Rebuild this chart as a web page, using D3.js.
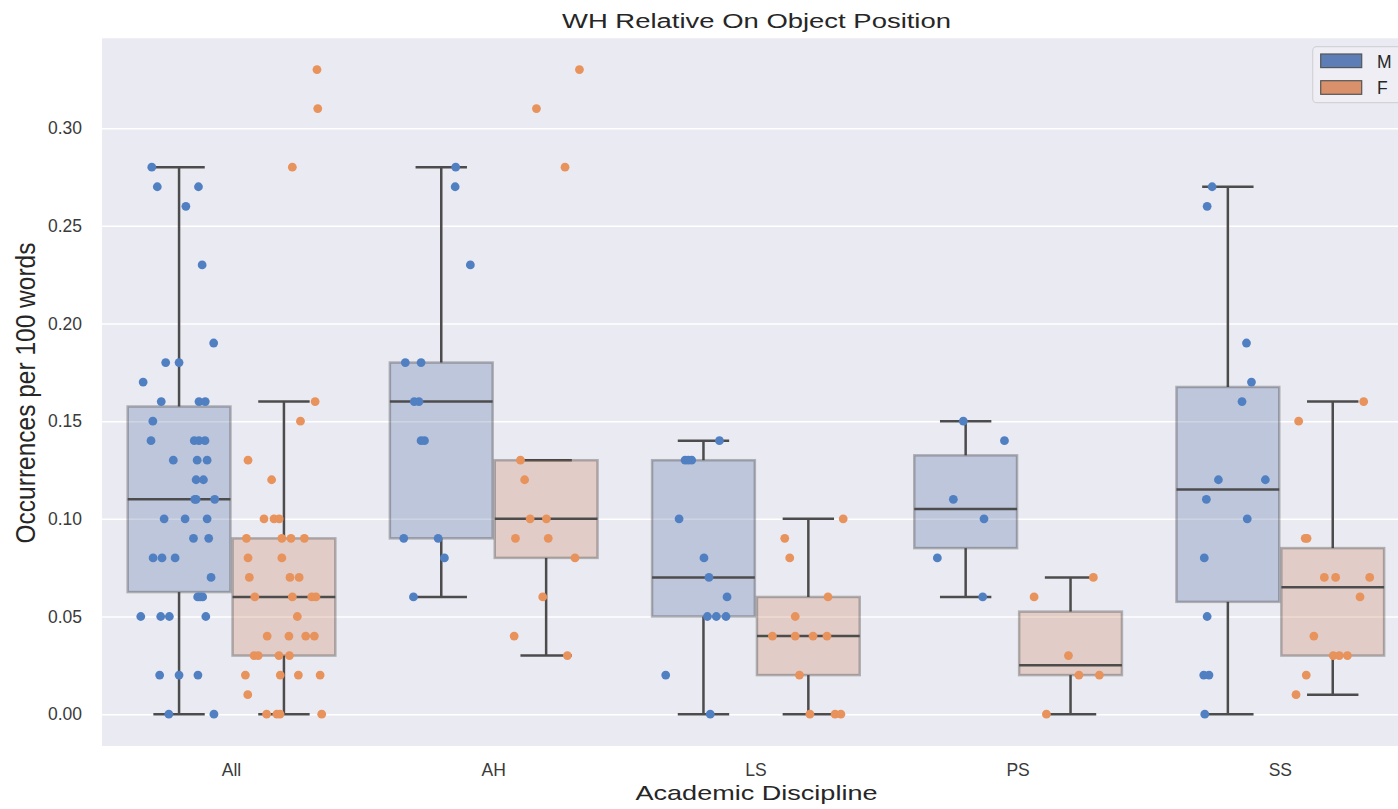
<!DOCTYPE html>
<html>
<head>
<meta charset="utf-8">
<script src="https://cdn.jsdelivr.net/npm/d3@7/dist/d3.min.js"></script>
<style>
  body { margin: 0; background: #ffffff; }
  svg { display: block; font-family: "Liberation Sans", Arial, sans-serif; }
</style>
</head>
<body>
<svg id="chart" width="1398" height="809"></svg>
<script>

// categories and hue levels
var categories = ["All", "AH", "LS", "PS", "SS"];
var genders = ["M", "F"];
var yTicks = [0, 0.05, 0.10, 0.15, 0.20, 0.25, 0.30];

// each point: [occurrences per 100 words, strip jitter (category units)]
var allM = [[0.28,-0.104],[0.27,-0.083],[0.27,0.074],[0.26,0.026],[0.23,0.088],[0.19,0.132],
	[0.18,-0.051],[0.18,0.000],[0.17,-0.137],[0.16,-0.068],[0.16,0.076],[0.16,0.100],[0.15,-0.100],
	[0.14,-0.107],[0.14,0.058],[0.14,0.076],[0.14,0.099],[0.13,-0.022],[0.13,0.069],[0.13,0.107],
	[0.12,0.065],[0.12,0.093],[0.11,0.060],[0.11,0.065],[0.11,0.136],[0.10,-0.057],[0.10,0.023],
	[0.10,0.107],[0.09,0.055],[0.09,0.113],[0.08,-0.099],[0.08,-0.065],[0.08,-0.015],[0.07,0.122],
	[0.06,0.071],[0.06,0.080],[0.06,0.090],[0.05,-0.146],[0.05,-0.070],[0.05,-0.037],[0.05,0.102],
	[0.02,-0.074],[0.02,0.000],[0.02,0.072],[0.00,-0.039],[0.00,0.133]];
var allF = [[0.33,0.126],[0.31,0.129],[0.28,0.032],[0.16,0.119],[0.15,0.063],[0.13,-0.137],
	[0.12,-0.047],[0.10,-0.076],[0.10,-0.038],[0.10,-0.018],[0.09,-0.143],[0.09,-0.008],[0.09,0.027],
	[0.09,0.078],[0.08,-0.137],[0.08,-0.008],[0.07,-0.132],[0.07,0.023],[0.07,0.058],[0.06,-0.111],
	[0.06,0.032],[0.06,0.106],[0.06,0.122],[0.05,0.051],[0.04,-0.064],[0.04,0.019],[0.04,0.083],
	[0.04,0.116],[0.03,-0.114],[0.03,-0.098],[0.03,-0.019],[0.03,0.021],[0.02,-0.147],[0.02,-0.014],
	[0.02,0.055],[0.02,0.138],[0.01,-0.138],[0.00,-0.066],[0.00,-0.027],[0.00,-0.015],[0.00,0.144]];
var ahM = [[0.28,0.055],[0.27,0.053],[0.23,0.111],[0.18,-0.137],[0.18,-0.077],[0.16,-0.103],
	[0.16,-0.085],[0.14,-0.077],[0.14,-0.064],[0.09,-0.143],[0.09,-0.012],[0.08,0.012],[0.06,-0.106]];
var ahF = [[0.33,0.127],[0.31,-0.037],[0.28,0.072],[0.13,-0.098],[0.12,-0.082],[0.10,-0.061],
	[0.10,0.001],[0.09,-0.117],[0.09,0.008],[0.08,0.110],[0.06,-0.013],[0.04,-0.122],[0.03,0.081]];
var lsM = [[0.14,0.061],[0.13,-0.070],[0.13,-0.058],[0.13,-0.045],[0.10,-0.093],[0.08,0.002],
	[0.07,0.021],[0.06,0.090],[0.05,0.015],[0.05,0.049],[0.05,0.086],[0.02,-0.144],[0.00,0.026]];
var lsF = [[0.10,0.133],[0.09,-0.090],[0.08,-0.071],[0.06,0.075],[0.05,-0.050],[0.04,-0.137],
	[0.04,-0.050],[0.04,0.018],[0.04,0.071],[0.02,-0.034],[0.00,0.006],[0.00,0.102],[0.00,0.124]];
var psM = [[0.15,-0.009],[0.14,0.148],[0.11,-0.047],[0.10,0.070],[0.08,-0.108],[0.06,0.065]];
var psF = [[0.07,0.087],[0.06,-0.139],[0.03,-0.008],[0.02,0.032],[0.02,0.110],[0.00,-0.092]];
var ssM = [[0.27,-0.060],[0.26,-0.079],[0.19,0.071],[0.17,0.090],[0.16,0.054],[0.12,-0.036],
	[0.12,0.143],[0.11,-0.082],[0.10,0.074],[0.08,-0.090],[0.05,-0.079],[0.02,-0.092],[0.02,-0.072],
	[0.00,-0.088]];
var ssF = [[0.16,0.118],[0.15,-0.130],[0.09,-0.105],[0.09,-0.098],[0.07,-0.032],[0.07,0.011],
	[0.07,0.141],[0.06,0.104],[0.04,-0.072],[0.03,0.002],[0.03,0.025],[0.03,0.056],[0.02,-0.101],
	[0.01,-0.140]];

// table used for drawing
var table = {
	"All": { "M": allM, "F": allF },
	"AH":  { "M": ahM,  "F": ahF },
	"LS":  { "M": lsM,  "F": lsF },
	"PS":  { "M": psM,  "F": psF },
	"SS":  { "M": ssM,  "F": ssF }
};

var boxFill  = { "M": "#5975a4", "F": "#cc8963" };
var dotColor = { "M": "#5180c2", "F": "#e8925c" };
var legendFill = { "M": "#5c7db5", "F": "#d9916b" };
var lineColor = "#4c4c4c";

// plot area
var plotLeft = 102, plotRight = 1411, plotTop = 38.3, plotBottom = 746;

var svg = d3.select("#chart");

var x = d3.scaleBand()
	.domain(categories)
	.range([100.4, 1411.4]);
var xHue = d3.scaleBand()
	.domain(genders)
	.range([0.1 * x.bandwidth(), 0.9 * x.bandwidth()]);
var y = d3.scaleLinear()
	.domain([-0.0163, 0.346])
	.range([plotBottom, plotTop]);

// background
svg.append("rect")
	.attr("x", plotLeft).attr("y", plotTop)
	.attr("width", plotRight - plotLeft).attr("height", plotBottom - plotTop)
	.attr("fill", "#eaeaf2");

// grid
svg.append("g")
	.attr("transform", "translate(" + plotLeft + ",0)")
	.call(d3.axisLeft(y).tickValues(yTicks).tickSize(-(plotRight - plotLeft)).tickFormat(""))
	.call(function(g){ g.select(".domain").remove(); })
	.selectAll("line")
	.attr("stroke", "#ffffff")
	.attr("stroke-width", 1.5);

// y tick labels
svg.append("g")
	.attr("transform", "translate(" + plotLeft + ",0)")
	.call(d3.axisLeft(y).tickValues(yTicks).tickSize(0).tickPadding(20).tickFormat(d3.format(".2f")))
	.call(function(g){ g.select(".domain").remove(); })
	.selectAll("text")
	.attr("fill", "#3a3a3a")
	.style("font-size", "17.5px")
	.style("font-family", "'Liberation Sans', Arial, sans-serif");

// x tick labels
svg.append("g")
	.attr("transform", "translate(0," + plotBottom + ")")
	.call(d3.axisBottom(x).tickSize(0).tickPadding(17.5))
	.call(function(g){ g.select(".domain").remove(); })
	.selectAll("text")
	.attr("fill", "#3a3a3a")
	.style("font-size", "17.5px")
	.style("font-family", "'Liberation Sans', Arial, sans-serif");

//box statistics, same rule as the 1.5 IQR whiskers
function boxStats(points){
	var s = points.map(function(p){ return p[0]; }).sort(d3.ascending);
	var q1 = d3.quantile(s, 0.25), med = d3.quantile(s, 0.5), q3 = d3.quantile(s, 0.75);
	var iqr = q3 - q1;
	var lo = d3.min(s.filter(function(v){ return v >= q1 - 1.5 * iqr - 1e-9; }));
	var hi = d3.max(s.filter(function(v){ return v <= q3 + 1.5 * iqr + 1e-9; }));
	return { q1: q1, med: med, q3: q3, lo: lo, hi: hi };
}

var boxW = xHue.bandwidth() * 0.98;
var boxes = svg.append("g");
var dots = svg.append("g");

categories.forEach(function(cat){
	genders.forEach(function(g){
		var pts = table[cat][g];
		var st = boxStats(pts);
		var cx = x(cat) + xHue(g) + xHue.bandwidth() / 2;
		var grp = boxes.append("g");

		// whiskers
		grp.append("line")
			.attr("x1", cx).attr("x2", cx)
			.attr("y1", y(st.q3)).attr("y2", y(st.hi))
			.attr("stroke", lineColor).attr("stroke-width", 2.5);
		grp.append("line")
			.attr("x1", cx).attr("x2", cx)
			.attr("y1", y(st.q1)).attr("y2", y(st.lo))
			.attr("stroke", lineColor).attr("stroke-width", 2.5);
		// caps
		[st.lo, st.hi].forEach(function(v){
			grp.append("line")
				.attr("x1", cx - boxW / 4).attr("x2", cx + boxW / 4)
				.attr("y1", y(v)).attr("y2", y(v))
				.attr("stroke", lineColor).attr("stroke-width", 2.5);
		});
		// box
		grp.append("rect")
			.attr("x", cx - boxW / 2).attr("width", boxW)
			.attr("y", y(st.q3)).attr("height", y(st.q1) - y(st.q3))
			.attr("fill", boxFill[g]).attr("fill-opacity", 0.3)
			.attr("stroke", "#3f3f3f").attr("stroke-opacity", 0.35)
			.attr("stroke-width", 2.5);
		// median
		grp.append("line")
			.attr("x1", cx - boxW / 2).attr("x2", cx + boxW / 2)
			.attr("y1", y(st.med)).attr("y2", y(st.med))
			.attr("stroke", lineColor).attr("stroke-width", 2.5);

		// strip points
		dots.selectAll(null)
			.data(pts)
			.enter()
			.append("circle")
			.attr("cx", function(d){ return cx + d[1] * x.step(); })
			.attr("cy", function(d){ return y(d[0]); })
			.attr("r", 4.4)
			.attr("fill", dotColor[g]);
	});
});

// title and axis labels
svg.append("text")
	.attr("x", 756.5).attr("y", 28)
	.attr("text-anchor", "middle")
	.attr("textLength", 389).attr("lengthAdjust", "spacingAndGlyphs")
	.style("font-size", "20px")
	.attr("fill", "#262626")
	.text("WH Relative On Object Position");

svg.append("text")
	.attr("x", 756.5).attr("y", 800)
	.attr("text-anchor", "middle")
	.attr("textLength", 242).attr("lengthAdjust", "spacingAndGlyphs")
	.style("font-size", "21px")
	.attr("fill", "#262626")
	.text("Academic Discipline");

svg.append("text")
	.attr("transform", "translate(35,393) rotate(-90) scale(1,1.1)")
	.attr("text-anchor", "middle")
	.style("font-size", "24.5px")
	.attr("fill", "#262626")
	.text("Occurrences per 100 words");

// legend
var legend = svg.append("g");
legend.append("rect")
	.attr("x", 1312.7).attr("y", 46.7)
	.attr("width", 92).attr("height", 56)
	.attr("rx", 4)
	.attr("fill", "#eeeef4")
	.attr("stroke", "#d2d2d8")
	.attr("stroke-width", 1.2);
genders.forEach(function(g, i){
	legend.append("rect")
		.attr("x", 1320.7).attr("y", 54 + i * 26.7)
		.attr("width", 41).attr("height", 13.6)
		.attr("fill", legendFill[g])
		.attr("stroke", "#555555")
		.attr("stroke-width", 1.2);
	legend.append("text")
		.attr("x", 1377).attr("y", 67.5 + i * 26.7)
		.style("font-size", "17.5px")
		.attr("fill", "#262626")
		.text(g);
});

</script>
</body>
</html>
